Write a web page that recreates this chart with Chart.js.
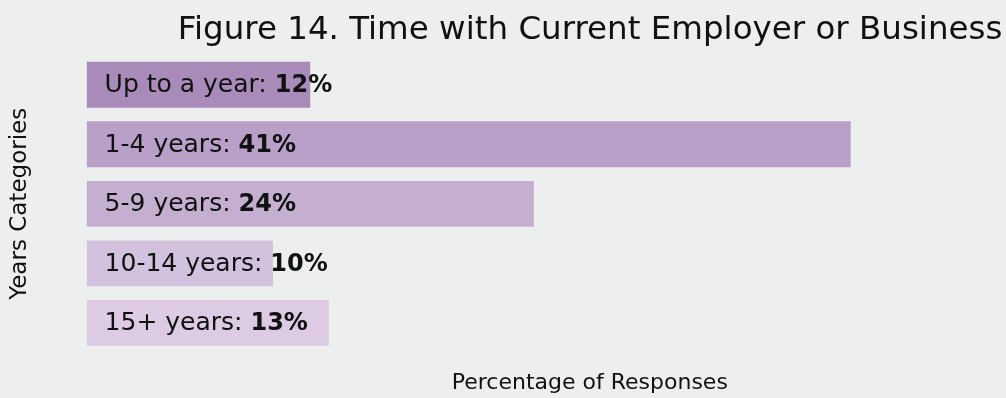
<!DOCTYPE html>
<html>
<head>
<meta charset="utf-8">
<script src="https://cdn.jsdelivr.net/npm/chart.js@4"></script>
<style>
  html, body { margin: 0; padding: 0; background: #edefee; overflow: hidden; }
  #wrap { width: 1180px; height: 398px; }
</style>
</head>
<body>
<div id="wrap"><canvas id="tenureChart"></canvas></div>
<script>
const categories = ['Up to a year', '1-4 years', '5-9 years', '10-14 years', '15+ years'];
const percentages = [12, 41, 24, 10, 13];
const barColors = ['#a98bba', '#b9a0c8', '#c5afd0', '#d3c2de', '#dccbe3'];

const FONT = "'DejaVu Sans', sans-serif";

// writes "label: NN%" inside each bar, value part in bold
const barLabels = {
    id: 'barLabels',
    afterDatasetsDraw(chart) {
        const ctx = chart.ctx;
        const meta = chart.getDatasetMeta(0);
        ctx.save();
        ctx.textBaseline = 'middle';
        ctx.fillStyle = '#111111';
        meta.data.forEach((bar, i) => {
            const x = bar.base + 18;
            const y = bar.y + 1;
            const first = categories[i] + ': ';
            ctx.font = '25px ' + FONT;
            ctx.fillText(first, x, y);
            const w = ctx.measureText(first).width;
            ctx.font = 'bold 24px ' + FONT;
            ctx.fillText(percentages[i] + '%', x + w, y);
        });
        ctx.restore();
    }
};

document.addEventListener('DOMContentLoaded', () => {
    const ctx = document.getElementById('tenureChart').getContext('2d');
    new Chart(ctx, {
        type: 'bar',
        data: {
            labels: categories,
            datasets: [{
                label: 'Percentage',
                data: percentages,
                backgroundColor: barColors,
                barPercentage: 0.77,
                categoryPercentage: 1
            }]
        },
        options: {
            indexAxis: 'y',
            responsive: true,
            maintainAspectRatio: false,
            animation: false,
            layout: { padding: 0 },
            plugins: {
                legend: { display: false },
                tooltip: { enabled: false },
                title: {
                    display: true,
                    text: 'Figure 14. Time with Current Employer or Business',
                    color: '#111111',
                    font: { family: FONT, size: 32.5, weight: 'normal' },
                    padding: { top: 11, bottom: 5 }
                }
            },
            scales: {
                x: {
                    min: 0,
                    max: 54,
                    ticks: { display: false },
                    grid: { display: false, drawTicks: false },
                    border: { display: false },
                    title: {
                        display: true,
                        text: 'Percentage of Responses',
                        color: '#111111',
                        font: { family: FONT, size: 22 },
                        padding: { top: 17, bottom: 2 }
                    }
                },
                y: {
                    ticks: { display: false },
                    grid: { display: false, drawTicks: false },
                    border: { display: false },
                    title: {
                        display: true,
                        text: 'Years Categories',
                        color: '#111111',
                        font: { family: FONT, size: 23 },
                        padding: { top: 6, bottom: 53 }
                    }
                },
                // empty right margin, keeps the plot centred like the original
                yRight: {
                    type: 'category',
                    position: 'right',
                    ticks: { display: false },
                    grid: { display: false, drawTicks: false },
                    border: { display: false },
                    afterFit(scale) { scale.width = 87; }
                }
            }
        },
        plugins: [barLabels]
    });
});
</script>
</body>
</html>
